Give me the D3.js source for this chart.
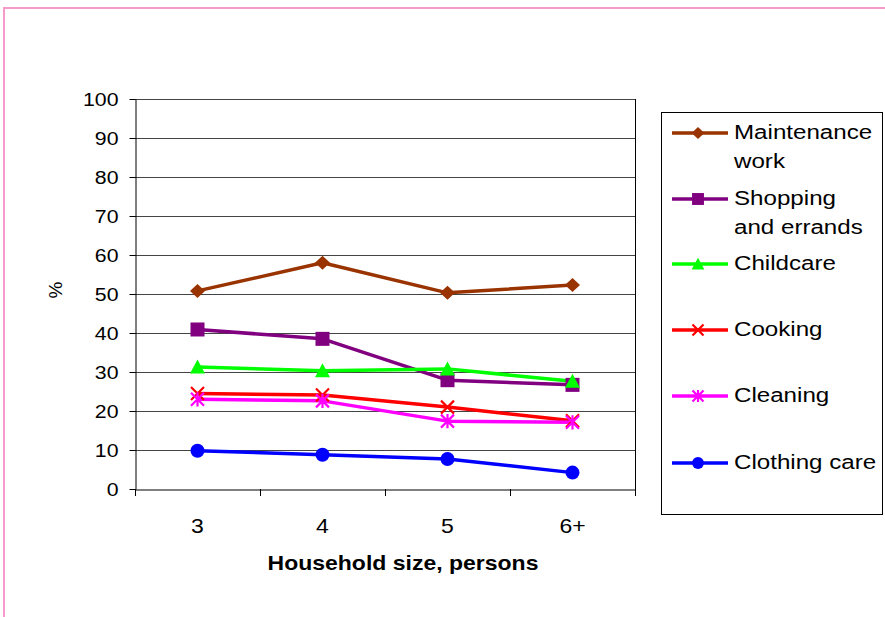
<!DOCTYPE html>
<html><head><meta charset="utf-8">
<script src="https://cdn.jsdelivr.net/npm/d3@7/dist/d3.min.js"></script>
<style>html,body{margin:0;padding:0;background:#fff;}svg{display:block;font-family:"Liberation Sans",Arial,sans-serif;}</style>
</head><body>
<script>
const categories = ["3", "4", "5", "6+"];
const seriesNames = ["Maintenance work", "Shopping and errands", "Childcare", "Cooking", "Cleaning", "Clothing care"];
const legendLines = [["Maintenance", "work"], ["Shopping", "and errands"], ["Childcare"], ["Cooking"], ["Cleaning"], ["Clothing care"]];
const maintenance = [50.8, 58.0, 50.3, 52.3];
const shopping = [40.9, 38.5, 27.9, 26.7];
const childcare = [31.3, 30.3, 30.8, 27.6];
const cooking = [24.5, 24.1, 21.0, 17.5];
const cleaning = [23.0, 22.6, 17.4, 17.1];
const clothing = [9.8, 8.8, 7.7, 4.2];
const yTicks = [0, 10, 20, 30, 40, 50, 60, 70, 80, 90, 100];
const colors = ["#993300", "#800080", "#00FF00", "#FF0000", "#FF00FF", "#0000FF"];
const markerTypes = ["diamond", "square", "triangle", "x", "asterisk", "circle"];
const allValues = [maintenance, shopping, childcare, cooking, cleaning, clothing];

(function () {
const W = 885, H = 617, SX = 1.15;
const svg = d3.select("body").append("svg").attr("width", W).attr("height", H);

// pink frame
svg.append("rect").attr("x", 4).attr("y", 8).attr("width", W + 10).attr("height", H + 10)
  .attr("fill", "none").attr("stroke", "#F59AC9").attr("stroke-width", 2);

const pL = 135, pR = 635, pT = 99, pB = 489;
const x = d3.scaleBand().domain(categories).range([pL, pR]).padding(0);
const y = d3.scaleLinear().domain([0, 100]).range([pB, pT]);

// gridlines
svg.append("g").selectAll("line").data(yTicks.filter(d => d > 0)).join("line")
  .attr("x1", pL).attr("x2", pR).attr("y1", d => y(d) + 0.5).attr("y2", d => y(d) + 0.5)
  .attr("stroke", "#444").attr("stroke-width", 1);
// right border
svg.append("line").attr("x1", pR + 0.5).attr("x2", pR + 0.5).attr("y1", pT).attr("y2", pB)
  .attr("stroke", "#000").attr("stroke-width", 1);

// y axis
const yAxis = svg.append("g").attr("transform", `translate(${pL + 0.5},0)`)
  .call(d3.axisLeft(y).tickValues(yTicks).tickSize(6).tickPadding(0).tickSizeOuter(0));
yAxis.select(".domain").attr("stroke", "#000");
yAxis.selectAll(".tick line").attr("stroke", "#000");
yAxis.selectAll(".tick text").attr("font-size", 18.5).attr("fill", "#000")
  .attr("font-family", "Liberation Sans, Arial, sans-serif")
  .attr("x", -17 / SX).attr("dy", "0.35em").attr("transform", `scale(${SX},1)`);

// x axis
const xAxis = svg.append("g").attr("transform", `translate(0,${pB + 0.5})`)
  .call(d3.axisBottom(x).tickSize(0).tickPadding(0).tickSizeOuter(0));
xAxis.select(".domain").attr("stroke", "#000");
xAxis.selectAll(".tick text").attr("font-size", 20).attr("fill", "#000")
  .attr("font-family", "Liberation Sans, Arial, sans-serif")
  .attr("y", 44).attr("dy", 0).attr("transform", `scale(${SX},1)`);
// boundary ticks
const bounds = categories.map(c => x(c)).concat([x(categories[categories.length - 1]) + x.bandwidth()]);
svg.append("g").selectAll("line").data(bounds).join("line")
  .attr("x1", d => Math.round(d) + 0.5).attr("x2", d => Math.round(d) + 0.5)
  .attr("y1", pB).attr("y2", pB + 7).attr("stroke", "#000");

// axis titles
svg.append("text").attr("transform", `translate(403,570) scale(${SX},1)`)
  .attr("text-anchor", "middle").attr("font-size", 20).attr("font-weight", "bold")
  .text("Household size, persons");
svg.append("text").attr("transform", `translate(62,290) rotate(-90)`)
  .attr("text-anchor", "middle").attr("font-size", 19).text("%");

function drawMarker(g, type, color, cx, cy, s) {
  if (type === "diamond") {
    g.append("path").attr("d", `M${cx},${cy - 7 * s}L${cx + 7.5 * s},${cy}L${cx},${cy + 7 * s}L${cx - 7.5 * s},${cy}Z`).attr("fill", color);
  } else if (type === "square") {
    g.append("rect").attr("x", cx - 7 * s).attr("y", cy - 7 * s).attr("width", 14 * s).attr("height", 14 * s).attr("fill", color);
  } else if (type === "triangle") {
    g.append("path").attr("d", `M${cx},${cy - 7.5 * s}L${cx + 7.5 * s},${cy + 6.5 * s}L${cx - 7.5 * s},${cy + 6.5 * s}Z`).attr("fill", color);
  } else if (type === "x") {
    const r = 6.5 * s;
    g.append("path").attr("d", `M${cx - r},${cy - r}L${cx + r},${cy + r}M${cx + r},${cy - r}L${cx - r},${cy + r}`)
      .attr("stroke", color).attr("stroke-width", 2.2).attr("fill", "none");
  } else if (type === "asterisk") {
    const r = 6.5 * s;
    g.append("path").attr("d", `M${cx - r},${cy - r}L${cx + r},${cy + r}M${cx + r},${cy - r}L${cx - r},${cy + r}M${cx},${cy - r * 1.1}L${cx},${cy + r * 1.1}`)
      .attr("stroke", color).attr("stroke-width", 2.2).attr("fill", "none");
  } else if (type === "circle") {
    g.append("circle").attr("cx", cx).attr("cy", cy).attr("r", 7 * s).attr("fill", color);
  }
}

const line = d3.line().x((d, i) => x(categories[i]) + x.bandwidth() / 2).y(d => y(d));
const plot = svg.append("g");
allValues.forEach((vals, k) => {
  plot.append("path").datum(vals).attr("d", line).attr("fill", "none")
    .attr("stroke", colors[k]).attr("stroke-width", 3.5).attr("stroke-linejoin", "round");
});
allValues.forEach((vals, k) => {
  vals.forEach((v, i) => drawMarker(plot, markerTypes[k], colors[k], x(categories[i]) + x.bandwidth() / 2, y(v), 1));
});

// legend
svg.append("rect").attr("x", 661.5).attr("y", 112.5).attr("width", 221).attr("height", 402)
  .attr("fill", "#fff").attr("stroke", "#000").attr("stroke-width", 1);
const legY = [133, 199, 264, 330, 396, 463];
seriesNames.forEach((name, k) => {
  const g = svg.append("g");
  const ly = legY[k];
  g.append("line").attr("x1", 672).attr("x2", 728).attr("y1", ly).attr("y2", ly)
    .attr("stroke", colors[k]).attr("stroke-width", 3.5);
  drawMarker(g, markerTypes[k], colors[k], 698, ly, 0.85);
  legendLines[k].forEach((t, j) => {
    g.append("text").attr("transform", `translate(734,${ly + 6 + j * 29}) scale(${SX},1)`)
      .attr("font-size", 21).attr("fill", "#000").text(t);
  });
});
})();
</script>
</body></html>
